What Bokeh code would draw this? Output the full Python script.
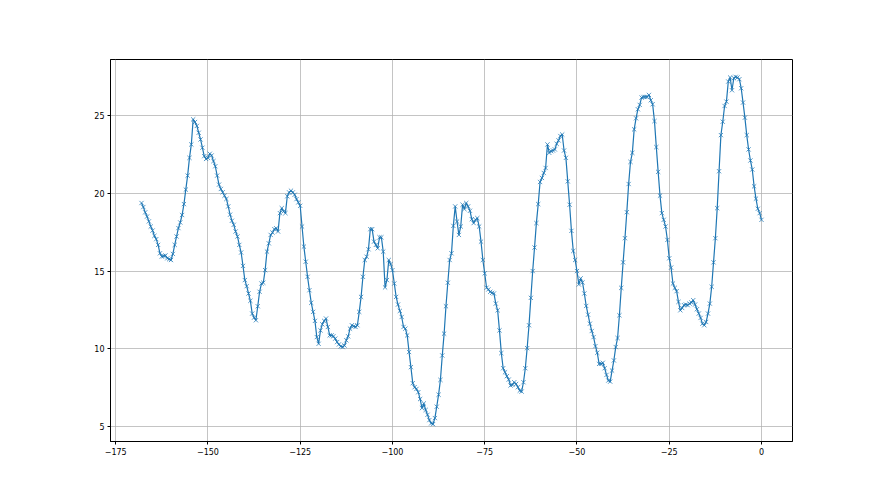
import numpy as np
from bokeh.plotting import figure
from bokeh.models import Range1d, FixedTicker
from bokeh.embed import file_html
from bokeh.resources import INLINE

# hours relative to now, half-hour steps from -168 to 0
hours = np.arange(-168.0, 0.25, 0.5)

values = [
    # -168 .. -140.5
    19.37, 19.11, 18.77, 18.50, 18.19, 17.86, 17.60, 17.26, 17.05, 16.68,
    16.14, 15.93, 15.97, 16.00, 15.82, 15.76, 15.71, 16.10, 16.68, 17.22,
    17.76, 18.12, 18.60, 19.30, 20.23, 21.13, 22.27, 23.13, 24.74, 24.57,
    24.32, 23.88, 23.45, 22.92, 22.38, 22.20, 22.27, 22.53, 22.42, 22.06,
    21.73, 21.13, 20.55, 20.27, 20.06, 19.84, 19.63, 19.15, 18.62, 18.23,
    17.97, 17.54, 17.22, 16.68, 16.19, 15.33,
    # -140 .. -110.5
    14.42, 14.03, 13.56, 13.09, 12.27, 12.01, 11.84, 12.74, 13.67, 14.20,
    14.25, 15.06, 16.25, 16.78, 17.32, 17.47, 17.69, 17.75, 17.54, 18.72,
    19.04, 18.83, 18.72, 19.80, 20.05, 20.16, 20.05, 19.90, 19.62, 19.41,
    19.19, 17.86, 16.57, 15.60, 14.63, 13.77, 12.96, 12.38, 11.80, 10.76,
    10.33, 11.19, 11.58, 11.80, 11.95, 11.41, 10.87, 10.87, 10.81, 10.66,
    10.44, 10.29, 10.16, 10.12, 10.22, 10.55, 10.81, 11.30, 11.52, 11.45,
    # -110 .. -80.5
    11.41, 11.52, 12.38, 13.34, 14.63, 15.71, 15.92, 16.40, 17.69, 17.69,
    16.89, 16.68, 16.46, 17.17, 17.17, 16.25, 13.95, 14.42, 15.71, 15.45,
    15.06, 14.20, 13.34, 12.85, 12.44, 12.05, 11.41, 11.30, 10.87, 9.80,
    8.83, 7.80, 7.54, 7.43, 7.22, 6.78, 6.20, 6.50, 6.08, 5.77,
    5.43, 5.22, 5.17, 5.56, 6.29, 7.06, 8.01, 9.58, 10.98, 12.74,
    14.25, 15.71, 16.14, 17.90, 19.15, 18.18, 17.32, 17.86, 19.26, 18.98,
    # -80 .. -50.5
    19.37, 19.15, 18.87, 18.33, 18.08, 18.29, 18.40, 17.86, 16.89, 15.71,
    14.85, 13.93, 13.82, 13.67, 13.60, 13.56, 12.91, 12.48, 11.19, 9.73,
    8.76, 8.50, 8.25, 8.03, 7.65, 7.69, 7.86, 7.75, 7.54, 7.32,
    7.26, 7.86, 8.76, 10.05, 11.52, 13.28, 15.00, 16.51, 18.08, 19.30,
    20.72, 20.98, 21.30, 21.62, 23.13, 22.59, 22.70, 22.74, 22.81, 23.17,
    23.39, 23.67, 23.77, 22.74, 22.27, 20.76, 19.26, 17.58, 16.29, 15.71,
    # -50 .. -21.5
    15.00, 14.14, 14.53, 14.27, 13.56, 12.76, 12.20, 11.62, 11.15, 10.76,
    10.18, 9.75, 9.04, 9.04, 9.11, 8.76, 8.33, 7.97, 7.90, 8.61,
    9.26, 10.12, 10.70, 12.16, 13.92, 15.56, 17.11, 18.78, 20.59, 22.01,
    22.59, 24.10, 24.81, 25.39, 25.67, 26.14, 26.18, 26.18, 26.18, 26.31,
    25.97, 25.71, 24.63, 22.96, 21.37, 19.84, 18.72, 18.29, 17.86, 17.00,
    15.82, 15.22, 14.20, 13.92, 13.71, 13.02, 12.48, 12.63,
    # -21 .. 0
    12.81, 12.85, 12.81, 12.91, 12.98, 13.13, 12.85, 12.55, 12.27, 11.99,
    11.62, 11.52, 11.73, 12.27, 12.91, 13.99, 15.56, 17.11, 19.04, 21.41,
    23.73, 24.59, 25.60, 25.88, 27.17, 27.43, 26.61, 27.39, 27.47, 27.43,
    27.32, 26.74, 25.82, 24.85, 23.73, 22.81, 22.10, 21.52, 20.44, 19.65,
    19.00, 18.72, 18.29,
]

x_ticks = [-175, -150, -125, -100, -75, -50, -25, 0]
x_tick_labels = ["\u2212175", "\u2212150", "\u2212125", "\u2212100", "\u221275", "\u221250", "\u221225", "0"]
y_ticks = [5, 10, 15, 20, 25]
y_tick_labels = ["5", "10", "15", "20", "25"]

xmin, xmax = float(hours[0]), float(hours[-1])
ymin, ymax = min(values), max(values)
xpad = 0.05 * (xmax - xmin)
ypad = 0.05 * (ymax - ymin)

p = figure(
    frame_width=682, frame_height=382,
    min_border_left=110, min_border_right=78,
    min_border_top=59, min_border_bottom=44,
    x_range=Range1d(xmin - xpad, xmax + xpad),
    y_range=Range1d(ymin - ypad, ymax + ypad),
    output_backend="svg", toolbar_location=None,
    background_fill_color="white", border_fill_color="white",
)

p.outline_line_color = "black"
p.outline_line_width = 1

for ax, ticks, labels in ((p.xaxis[0], x_ticks, x_tick_labels), (p.yaxis[0], y_ticks, y_tick_labels)):
    ax.ticker = FixedTicker(ticks=ticks)
    ax.major_label_overrides = {t: l for t, l in zip(ticks, labels)}
    ax.axis_line_color = "black"
    ax.axis_line_width = 1
    ax.major_tick_line_color = "black"
    ax.major_tick_in = 0
    ax.major_tick_out = 3
    ax.minor_tick_line_color = None
    ax.major_label_text_font = "DejaVu Sans"
    ax.major_label_text_font_size = "8px"
    ax.major_label_text_color = "black"
    ax.major_label_standoff = 3

for g in (p.xgrid[0], p.ygrid[0]):
    g.grid_line_color = "#b0b0b0"
    g.grid_line_width = 1
    g.grid_line_alpha = 0.75

p.xgrid[0].ticker = FixedTicker(ticks=x_ticks)
p.ygrid[0].ticker = FixedTicker(ticks=y_ticks)

p.line(hours, values, line_color="#1f77b4", line_width=1.2)
p.scatter(hours, values, marker="x", size=6, line_color="#1f77b4", line_width=1, line_alpha=0.75)

open("out.html", "w").write(file_html(p, INLINE))
